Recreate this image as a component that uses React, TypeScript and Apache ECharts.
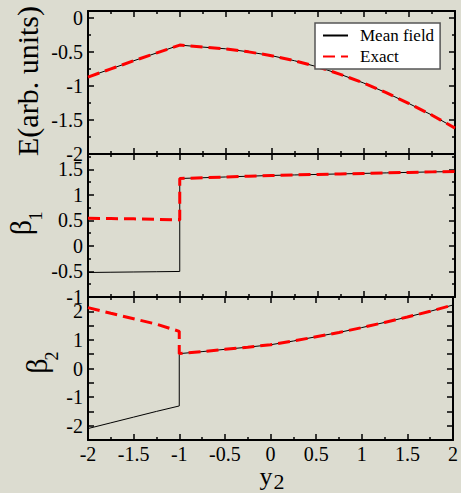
import React, { useEffect, useRef } from 'react';
import * as echarts from 'echarts';

// ---- data ----
const xLeft = [-2, -1.75, -1.5, -1.25, -1];
const xRight = [-1, -0.75, -0.5, -0.25, 0, 0.25, 0.5, 0.75, 1, 1.25, 1.5, 1.75, 2];

const energyLeft = [-0.87, -0.75, -0.63, -0.515, -0.4];
const energyRight = [-0.4, -0.43, -0.455, -0.5, -0.556, -0.63, -0.72, -0.83, -0.955, -1.1, -1.26, -1.43, -1.62];

const beta1MeanLeft = [-0.52, -0.515, -0.51, -0.505, -0.5];
const beta1ExactLeft = [0.54, 0.535, 0.53, 0.52, 0.51];
const beta1Right = [1.32, 1.335, 1.35, 1.365, 1.38, 1.39, 1.4, 1.41, 1.42, 1.43, 1.44, 1.45, 1.455];

const beta2MeanLeft = [-2.1, -1.9, -1.7, -1.5, -1.31];
const beta2ExactLeft = [2.13, 1.93, 1.74, 1.55, 1.3];
const beta2Right = [0.52, 0.59, 0.67, 0.745, 0.83, 0.96, 1.11, 1.26, 1.43, 1.61, 1.8, 2.0, 2.22];

const xTicks = { min: -2, max: 2, interval: 0.5 };
const yRanges = [
  { min: -2, max: 0.1, interval: 0.5, labelStep: 0.5, minor: true },
  { min: -1, max: 1.8, interval: 0.5, labelStep: 0.5, minor: true },
  { min: -2.5, max: 2.5, interval: 0.5, labelStep: 1, minor: false },
];
const seriesNames = ['Mean field', 'Exact'];

const FONT = "'Liberation Serif', 'Times New Roman', serif";
const BG = '#dcdcd0';

function zip(xs: number[], ys: number[]) {
  return xs.map((x, i) => [x, ys[i]]);
}

export default function App() {
  const ref = useRef<HTMLDivElement>(null);
  useEffect(() => {
    document.body.style.margin = '0';
    document.body.style.background = BG;
    const chart = echarts.init(ref.current!, null, { renderer: 'svg' });

    const grids = [0, 1, 2].map((i) => ({ left: 88, width: 367, top: 11 + i * 143, height: 143 }));

    const tickStyle = { color: '#000', width: 1.5 };
    const xAxes: any[] = [];
    const yAxes: any[] = [];
    for (let g = 0; g < 3; g++) {
      for (const pos of ['bottom', 'top']) {
        xAxes.push({
          type: 'value', gridIndex: g, position: pos, ...xTicks,
          axisLine: { onZero: false, lineStyle: { color: '#000', width: 2 } },
          axisTick: { inside: true, length: 6, lineStyle: tickStyle },
          minorTick: { show: true, splitNumber: 2, length: 3, lineStyle: tickStyle },
          splitLine: { show: false },
          axisLabel: {
            show: g === 2 && pos === 'bottom', margin: 4, color: '#000', fontSize: 20, fontFamily: FONT,
            formatter: (v: number) => String(Math.round(v * 10) / 10),
          },
        });
      }
      const r = yRanges[g];
      for (const pos of ['left', 'right']) {
        yAxes.push({
          type: 'value', gridIndex: g, position: pos, min: r.min, max: r.max, interval: r.interval,
          axisLine: { onZero: false, lineStyle: { color: '#000', width: 2 } },
          axisTick: { inside: true, length: 6, lineStyle: tickStyle },
          minorTick: { show: r.minor, splitNumber: 2, length: 3, lineStyle: tickStyle },
          splitLine: { show: false },
          axisLabel: {
            show: pos === 'left', margin: 5, color: '#000', fontSize: 20, fontFamily: FONT,
            formatter: (v: number) => {
              const k = Math.round(v / r.labelStep) * r.labelStep;
              if (Math.abs(k - v) > 1e-6) return '';
              return String(Math.round(v * 10) / 10);
            },
          },
        });
      }
    }

    const panels = [
      { mean: zip(xLeft.concat(xRight), energyLeft.concat(energyRight)), exact: zip(xLeft.concat(xRight), energyLeft.concat(energyRight)) },
      { mean: zip(xLeft.concat(xRight), beta1MeanLeft.concat(beta1Right)), exact: zip(xLeft.concat(xRight), beta1ExactLeft.concat(beta1Right)) },
      { mean: zip(xLeft.concat(xRight), beta2MeanLeft.concat(beta2Right)), exact: zip(xLeft.concat(xRight), beta2ExactLeft.concat(beta2Right)) },
    ];

    const series: any[] = [];
    panels.forEach((p, g) => {
      series.push({
        type: 'line', name: seriesNames[0], xAxisIndex: g * 2, yAxisIndex: g * 2, data: p.mean,
        symbol: 'none', lineStyle: { color: '#000', width: 1 }, itemStyle: { color: '#000', opacity: 0 }, z: 2,
      });
      series.push({
        type: 'line', name: seriesNames[1], xAxisIndex: g * 2, yAxisIndex: g * 2, data: p.exact,
        symbol: 'none', lineStyle: { color: '#ff0000', width: 3, type: [12, 6] }, itemStyle: { color: '#ff0000', opacity: 0 }, z: 3,
      });
    });

    const txt = (text: string, x: number, y: number, size: number, rot = 0) => ({
      type: 'text', x, y, rotation: rot,
      style: { text, fontSize: size, fontFamily: FONT, fill: '#000', align: 'center', verticalAlign: 'middle' },
    });

    chart.setOption({
      animation: false,
      backgroundColor: BG,
      grid: grids,
      xAxis: xAxes,
      yAxis: yAxes,
      series,
      legend: {
        data: seriesNames, orient: 'vertical', left: 315, top: 23,
        backgroundColor: '#fff', borderColor: '#555', borderWidth: 1.5,
        padding: [4, 6, 4, 7], itemWidth: 25, itemHeight: 14, itemGap: 4,
        itemStyle: { opacity: 0 },
        textStyle: { fontSize: 17, fontFamily: FONT, color: '#000', padding: [0, 0, 0, 7] },
      },
      graphic: [
        txt('E(arb. units)', 27, 81, 30, Math.PI / 2),
        txt('β', 20, 227.5, 30, Math.PI / 2),
        txt('1', 36, 216, 18, Math.PI / 2),
        txt('β', 36, 366, 30, Math.PI / 2),
        txt('2', 52, 356, 18, Math.PI / 2),
        txt('y', 266, 476, 26),
        txt('2', 279, 481, 22),
      ],
    });
    return () => chart.dispose();
  }, []);
  return <div ref={ref} style={{ position: 'fixed', left: 0, top: 0, width: 461, height: 493 }} />;
}
